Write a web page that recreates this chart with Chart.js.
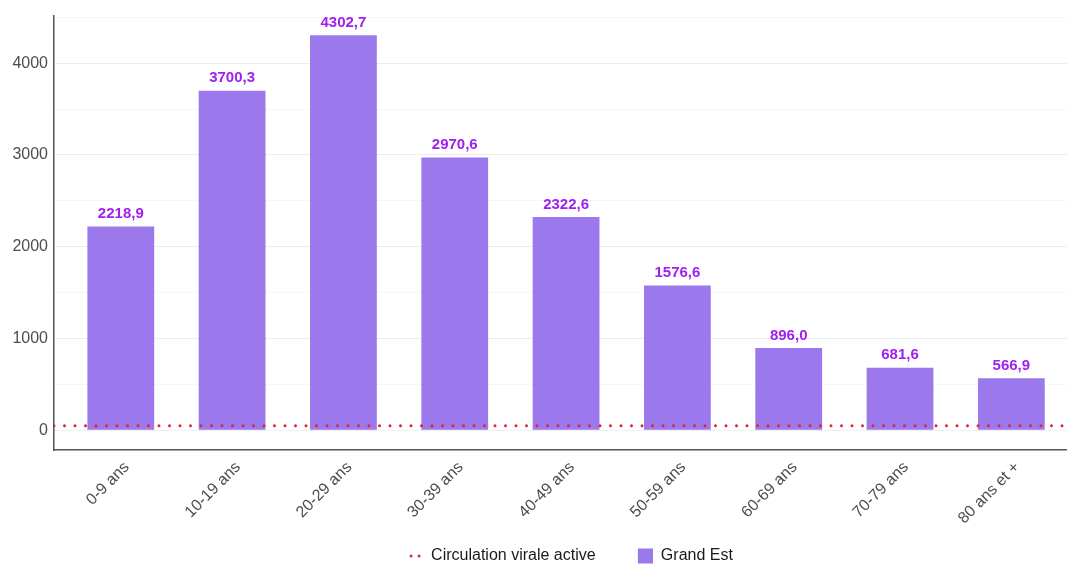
<!DOCTYPE html>
<html lang="fr">
<head>
<meta charset="utf-8">
<script src="https://cdn.jsdelivr.net/npm/chart.js@4/dist/chart.umd.min.js"></script>
<style>
  html, body { margin: 0; padding: 0; background: #ffffff; }
  #wrap { width: 1067px; height: 566px; position: relative; }
</style>
</head>
<body>
<div id="wrap"><canvas id="chart-age"></canvas></div>
<script>
// Données
const categories = ['0-9 ans', '10-19 ans', '20-29 ans', '30-39 ans', '40-49 ans', '50-59 ans', '60-69 ans', '70-79 ans', '80 ans et +'];
const tauxIncidence = [2218.9, 3700.3, 4302.7, 2970.6, 2322.6, 1576.6, 896.0, 681.6, 566.9];
const seuilCirculation = 50;
const yTicks = [0, 1000, 2000, 3000, 4000];

// Couleurs
const colorBar = '#9c78ed';
const colorLabel = '#a020f0';
const colorRed = '#e8212f';
const colorText = '#4d4d4d';

// bornes des axes (expansion type ggplot)
const xMin = -0.6;
const xMax = 8.5;
const yMax = Math.max(...tauxIncidence) * 1.05;
const yMin = -Math.max(...tauxIncidence) * 0.05;

// petites icônes pour la légende (contenu calé à droite)
function legendIcon(draw) {
    const c = document.createElement('canvas');
    c.width = 35; c.height = 16;
    draw(c.getContext('2d'));
    return c;
}
const iconDots = legendIcon(ctx => {
    ctx.fillStyle = colorRed;
    [23, 31].forEach(x => { ctx.beginPath(); ctx.arc(x, 8, 1.5, 0, Math.PI * 2); ctx.fill(); });
});
const iconSquare = legendIcon(ctx => {
    ctx.fillStyle = colorBar;
    ctx.fillRect(20, 0.5, 15, 15);
});

// étiquettes de valeur au-dessus des barres
const valueLabels = {
    id: 'valueLabels',
    afterDatasetsDraw(chart) {
        const meta = chart.getDatasetMeta(1);
        const ctx = chart.ctx;
        ctx.save();
        ctx.font = 'bold 15px "Liberation Sans", Arial, sans-serif';
        ctx.fillStyle = colorLabel;
        ctx.textAlign = 'center';
        ctx.textBaseline = 'bottom';
        meta.data.forEach((bar, i) => {
            ctx.fillText(tauxIncidence[i].toFixed(1).replace('.', ','), bar.x, bar.y - 5);
        });
        ctx.restore();
    }
};

new Chart(document.getElementById('chart-age'), {
    type: 'bar',
    data: {
        datasets: [{
            type: 'line',
            label: 'Circulation virale active',
            data: [{ x: xMin, y: seuilCirculation }, { x: xMax, y: seuilCirculation }],
            borderColor: colorRed,
            borderWidth: 3,
            borderDash: [0, 10.5],
            borderCapStyle: 'round',
            pointRadius: 0,
            fill: false,
            order: 0
        }, {
            label: 'Grand Est',
            data: tauxIncidence.map((v, i) => ({ x: i, y: v })),
            backgroundColor: colorBar,
            categoryPercentage: 1,
            barPercentage: 0.6,
            order: 1
        }]
    },
    options: {
        responsive: true,
        maintainAspectRatio: false,
        animation: false,
        events: [],
        layout: { padding: { top: 15, left: 0, right: 0, bottom: -8 } },
        plugins: {
            tooltip: { enabled: false },
            legend: {
                position: 'bottom',
                fullSize: false,
                labels: {
                    usePointStyle: true,
                    pointStyleWidth: 35,
                    padding: 0,
                    color: '#1a1a1a',
                    font: { family: '"Liberation Sans", Arial, sans-serif', size: 16 },
                    generateLabels: () => [
                        { text: 'Circulation virale active\u00a0\u00a0\u00a0\u00a0\u00a0', pointStyle: iconDots, fontColor: '#1a1a1a', lineWidth: 0, strokeStyle: 'transparent', fillStyle: 'transparent', datasetIndex: 0 },
                        { text: 'Grand Est', pointStyle: iconSquare, fontColor: '#1a1a1a', lineWidth: 0, strokeStyle: 'transparent', fillStyle: 'transparent', datasetIndex: 1 }
                    ]
                }
            }
        },
        scales: {
            x: {
                type: 'linear',
                offset: false,
                min: xMin,
                max: xMax,
                afterBuildTicks: scale => { scale.ticks = categories.map((c, i) => ({ value: i })); },
                afterFit: scale => { scale.height = 98; },
                grid: { display: false, drawTicks: false },
                border: { display: true, color: '#555555', width: 1.5 },
                ticks: {
                    autoSkip: false,
                    minRotation: 45,
                    maxRotation: 45,
                    padding: 8,
                    labelOffset: 6,
                    color: colorText,
                    font: { family: '"Liberation Sans", Arial, sans-serif', size: 16 },
                    callback: value => categories[value] ?? ''
                }
            },
            y: {
                min: yMin,
                max: yMax,
                afterBuildTicks: scale => {
                    const t = [];
                    yTicks.forEach(v => { t.push({ value: v }); t.push({ value: v + 500 }); });
                    scale.ticks = t;
                },
                afterFit: scale => { scale.width = 54; },
                grid: {
                    drawTicks: false,
                    color: c => (c.tick && c.tick.value % 1000 === 0) ? '#ececec' : '#f6f6f6',
                    lineWidth: 1
                },
                border: { display: true, color: '#555555', width: 1.5 },
                ticks: {
                    padding: 6,
                    color: colorText,
                    font: { family: '"Liberation Sans", Arial, sans-serif', size: 16 },
                    callback: value => yTicks.includes(value) ? String(value) : ''
                }
            }
        }
    },
    plugins: [valueLabels]
});
</script>
</body>
</html>
